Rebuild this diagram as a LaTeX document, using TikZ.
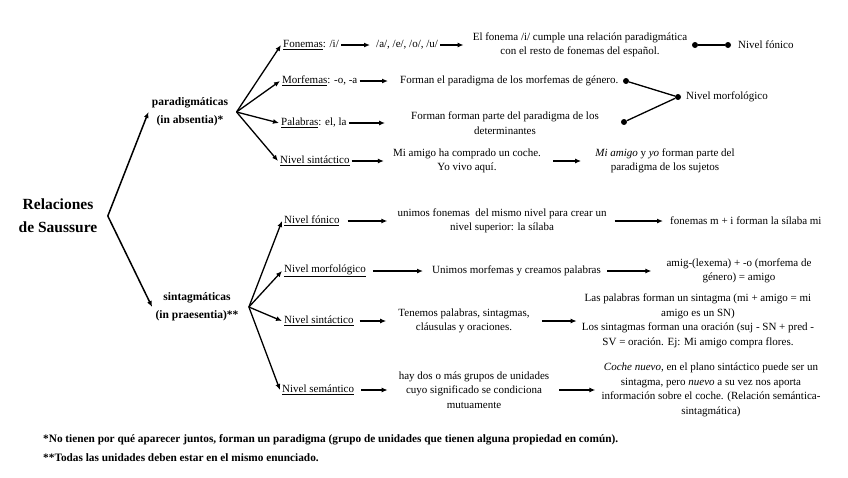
\documentclass[tikz,border=0pt]{standalone}
\usepackage{fontspec}
\setmainfont{Liberation Serif}
\usepackage{tikz}
\usetikzlibrary{arrows.meta, positioning, calc}

\begin{document}
\begin{tikzpicture}[x=1pt, y=-1pt]

        % --- Styles ---
        \tikzset{
            arr/.style={-{Latex[length=6pt, width=5pt]}, line width=1.3pt},
            dotLine/.style={line width=1.3pt},
            dotNode/.style={circle, fill=black, inner sep=0pt, minimum size=6pt},
            rootTxt/.style={font=\fontsize{15.5}{23}\selectfont\bfseries, align=center},
            branchTxt/.style={font=\fontsize{11.5}{18}\selectfont\bfseries, align=center},
            lvlTxt/.style={font=\fontsize{11}{14}\selectfont, anchor=west, inner sep=2pt},
            bodyTxt/.style={font=\fontsize{11}{14.5}\selectfont, align=center, inner sep=2pt},
            noteTxt/.style={font=\fontsize{11.3}{18}\selectfont\bfseries, anchor=west, inner sep=0pt}
        }

        \useasboundingbox (0,0) rectangle (848,477);

        % --- Root and branches ---
        \node[rootTxt] (root) at (58,216) {Relaciones\\de Saussure};
        \node[branchTxt] (para) at (190,112) {paradigmáticas\\(in absentia)*};
        \node[branchTxt] (sint) at (197,307) {sintagmáticas\\(in praesentia)**};

        \coordinate (rv) at ([xshift=7pt]root.east);
        \coordinate (pv) at ([xshift=5pt]para.east);
        \coordinate (sv) at ([xshift=7pt]sint.east);

        \draw[arr, line width=1.5pt] (rv) -- (para.west);
        \draw[arr, line width=1.5pt] (rv) -- (sint.west);

        % --- Paradigmatic levels ---
        \node[lvlTxt] (fon)  at (281,45)  {\underline{Fonemas}: /i/};
        \node[lvlTxt] (morf) at (280,81)  {\underline{Morfemas}: -o, -a};
        \node[lvlTxt] (pal)  at (279,123) {\underline{Palabras}: el, la};
        \node[lvlTxt] (psin) at (278,161) {\underline{Nivel sintáctico}};

        \draw[arr] (pv) -- (fon.west);
        \draw[arr] (pv) -- (morf.west);
        \draw[arr] (pv) -- (pal.west);
        \draw[arr] (pv) -- (psin.west);

        % Row 1
        \node[lvlTxt] (fonB) at (374,45) {/a/, /e/, /o/, /u/};
        \node[bodyTxt] (fonC) at (580,45) {El fonema /i/ cumple una relación paradigmática\\con el resto de fonemas del español.};
        \node[lvlTxt] (nfon) at (736,45) {Nivel fónico};
        \draw[arr, shorten >=4pt] (fon.east) -- (fonB.west);
        \draw[arr, shorten >=7pt] (fonB.east) -- (fonC.west);
        \node[dotNode] (d1a) at (695,45) {};
        \node[dotNode] (d1b) at (728,45) {};
        \draw[dotLine] (d1a) -- (d1b);

        % Row 2
        \node[lvlTxt] (morfB) at (398,81) {Forman el paradigma de los morfemas de género.};
        \draw[arr, shorten >=10pt] (morf.east) -- (morfB.west);

        % Row 3
        \node[bodyTxt] (palB) at (505,123) {Forman forman parte del paradigma de los\\determinantes};
        \draw[arr, shorten >=24pt] (pal.east) -- (palB.west);

        % Rows 2 and 3 meet
        \node[dotNode] (d2a) at (626,81) {};
        \node[dotNode] (d3a) at (624,122) {};
        \node[dotNode] (d2b) at (678,97) {};
        \node[lvlTxt] (nmorf) at (684,97) {Nivel morfológico};
        \draw[dotLine] (d2a) -- (d2b);
        \draw[dotLine] (d3a) -- (d2b);

        % Row 4
        \node[bodyTxt] (psinB) at (467,161) {Mi amigo ha comprado un coche.\\Yo vivo aquí.};
        \node[bodyTxt] (psinC) at (665,161) {\textit{Mi amigo} y \textit{yo} forman parte del\\paradigma de los sujetos};
        \draw[arr, shorten >=7pt] (psin.east) -- (psinB.west);
        \draw[arr, shorten <=10pt, shorten >=12pt] (psinB.east) -- (psinC.west);

        % --- Syntagmatic levels ---
        \node[lvlTxt] (sfon)  at (282,221) {\underline{Nivel fónico}};
        \node[lvlTxt] (smorf) at (282,271) {\underline{Nivel morfológico}};
        \node[lvlTxt] (ssin)  at (282,321) {\underline{Nivel sintáctico}};
        \node[lvlTxt] (ssem)  at (280,390) {\underline{Nivel semántico}};

        \draw[arr] (sv) -- (sfon.west);
        \draw[arr] (sv) -- (smorf.west);
        \draw[arr] (sv) -- (ssin.west);
        \draw[arr] (sv) -- (ssem.west);

        % Row 5
        \node[bodyTxt] (sfonB) at (502,221) {unimos fonemas\ \ del mismo nivel para crear un\\nivel superior: la sílaba};
        \node[lvlTxt] (sfonC) at (668,221) {fonemas m + i forman la sílaba mi};
        \draw[arr, shorten <=6pt, shorten >=8pt] (sfon.east) -- (sfonB.west);
        \draw[arr, shorten <=6pt, shorten >=5pt] (sfonB.east) -- (sfonC.west);

        % Row 6
        \node[lvlTxt] (smorfB) at (430,271) {Unimos morfemas y creamos palabras};
        \node[bodyTxt] (smorfC) at (739,271) {amig-(lexema) + -o (morfema de\\género) = amigo};
        \draw[arr, shorten <=5pt, shorten >=7pt] (smorf.east) -- (smorfB.west);
        \draw[arr, shorten <=4pt, shorten >=13pt] (smorfB.east) -- (smorfC.west);

        % Row 7
        \node[bodyTxt] (ssinB) at (464,321) {Tenemos palabras, sintagmas,\\cláusulas y oraciones.};
        \node[bodyTxt] (ssinC) at (698,321) {Las palabras forman un sintagma (mi + amigo = mi\\amigo es un SN)\\Los sintagmas forman una oración (suj - SN + pred -\\SV = oración. Ej: Mi amigo compra flores.};
        \draw[arr, shorten <=4pt, shorten >=10pt] (ssin.east) -- (ssinB.west);
        \draw[arr, shorten <=10pt, shorten >=3pt] (ssinB.east) -- (ssinC.west);

        % Row 8
        \node[bodyTxt] (ssemB) at (474,390) {hay dos o más grupos de unidades\\cuyo significado se condiciona\\mutuamente};
        \node[bodyTxt] (ssemC) at (711,390) {\textit{Coche nuevo}, en el plano sintáctico puede ser un\\sintagma, pero \textit{nuevo} a su vez nos aporta\\información sobre el coche. (Relación semántica-\\sintagmática)};
        \draw[arr, shorten <=5pt, shorten >=9pt] (ssem.east) -- (ssemB.west);
        \draw[arr, shorten <=8pt, shorten >=4pt] (ssemB.east) -- (ssemC.west);

        % --- Notes ---
        \node[noteTxt] (note1) at (43,440) {*No tienen por qué aparecer juntos, forman un paradigma (grupo de unidades que tienen alguna propiedad en común).};
        \node[noteTxt] (note2) at (43,458) {**Todas las unidades deben estar en el mismo enunciado.};

\end{tikzpicture}
\end{document}
